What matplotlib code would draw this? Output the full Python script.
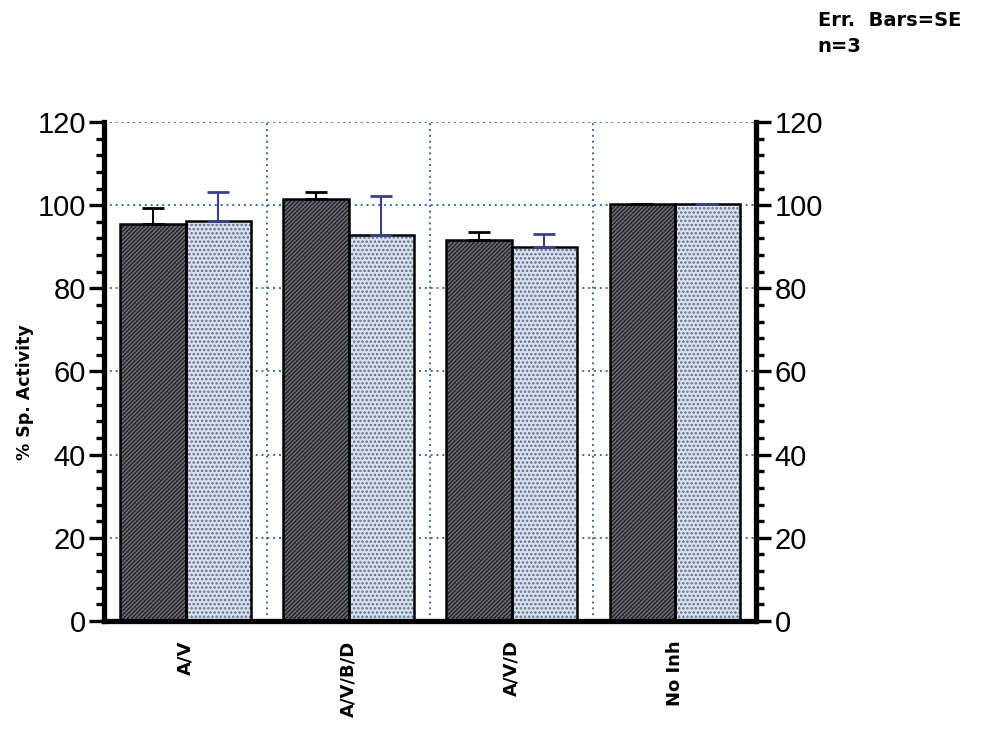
import numpy as np
import matplotlib
matplotlib.use("Agg")
import matplotlib.pyplot as plt
from matplotlib.ticker import MultipleLocator

# Daten
gruppen = ["A/V", "A/V/B/D", "A/V/D", "No Inh"]
dunkel = [95.5, 101.4, 91.7, 100.2]
dunkel_fehler = [3.9, 1.8, 1.8, 0.0]
hell = [96.2, 92.9, 89.9, 100.2]
hell_fehler = [6.9, 9.2, 3.1, 0.0]
y_ticks = [0, 20, 40, 60, 80, 100, 120]

plt.rcParams['hatch.linewidth'] = 1.2

fig = plt.figure(figsize=(9.9, 7.47), dpi=100)
ax = fig.add_axes([0.105, 0.1687, 0.659, 0.668])

x = np.arange(len(gruppen))
breite = 0.4

# Balken mit Muster (Muster zuerst, dann Rand)
ax.bar(x - breite / 2, dunkel, breite, color="#77777f", hatch="////////",
       edgecolor="#26262b", linewidth=0, zorder=2)
ax.bar(x - breite / 2, dunkel, breite, fill=False, edgecolor="black",
       linewidth=1.8, zorder=3)
ax.bar(x + breite / 2, hell, breite, color="#d9e3ef", hatch="....",
       edgecolor="#5e6d8a", linewidth=0, zorder=2)
ax.bar(x + breite / 2, hell, breite, fill=False, edgecolor="black",
       linewidth=1.8, zorder=3)

# Fehlerbalken nur nach oben
ax.errorbar(x - breite / 2, dunkel, yerr=[np.zeros(len(x)), dunkel_fehler],
            fmt="none", ecolor="black", elinewidth=1.5, capsize=8, capthick=2,
            zorder=4)
ax.errorbar(x + breite / 2, hell, yerr=[np.zeros(len(x)), hell_fehler],
            fmt="none", ecolor="#3b3f8c", elinewidth=1.5, capsize=8, capthick=2,
            zorder=4)

ax.set_xlim(-0.5, len(gruppen) - 0.5)
ax.set_ylim(0, 120)
ax.set_yticks(y_ticks)
ax.yaxis.set_minor_locator(MultipleLocator(4))
ax.set_xticks(x)
ax.set_xticklabels(gruppen, rotation=90, fontsize=13, fontweight="bold",
                   family="DejaVu Sans")
ax.set_xticks(x[:-1] + 0.5, minor=True)

ax.grid(True, axis="y", which="major", linestyle=(0, (1, 2)), color="#3f6f9a", linewidth=1.4)
ax.grid(True, axis="x", which="minor", linestyle=(0, (1, 2)), color="#3f6f9a", linewidth=1.4)
ax.set_axisbelow(True)

ax.tick_params(axis="x", which="both", length=0, pad=14)
ax.tick_params(axis="y", which="major", direction="out", length=11, width=2.4,
               labelsize=21, left=True, right=True, labelleft=True, labelright=True,
               pad=2)
ax.tick_params(axis="y", which="minor", direction="out", length=6, width=2.4,
               left=True, right=True)
for lab in ax.get_yticklabels():
    lab.set_family("Liberation Sans")

for s in ["left", "right", "bottom"]:
    ax.spines[s].set_linewidth(3.8)
    ax.spines[s].set_color("black")
ax.spines["top"].set_visible(False)

fig.text(0.025, 0.475, "% Sp. Activity", rotation=90, ha="center", va="center",
         fontsize=12.5, fontweight="bold", family="DejaVu Sans")
fig.text(0.826, 0.973, "Err.  Bars=SE", ha="left", va="center",
         fontsize=14, fontweight="bold", family="DejaVu Sans")
fig.text(0.826, 0.938, "n=3", ha="left", va="center",
         fontsize=14, fontweight="bold", family="DejaVu Sans")

fig.savefig("out.png", dpi=100)
